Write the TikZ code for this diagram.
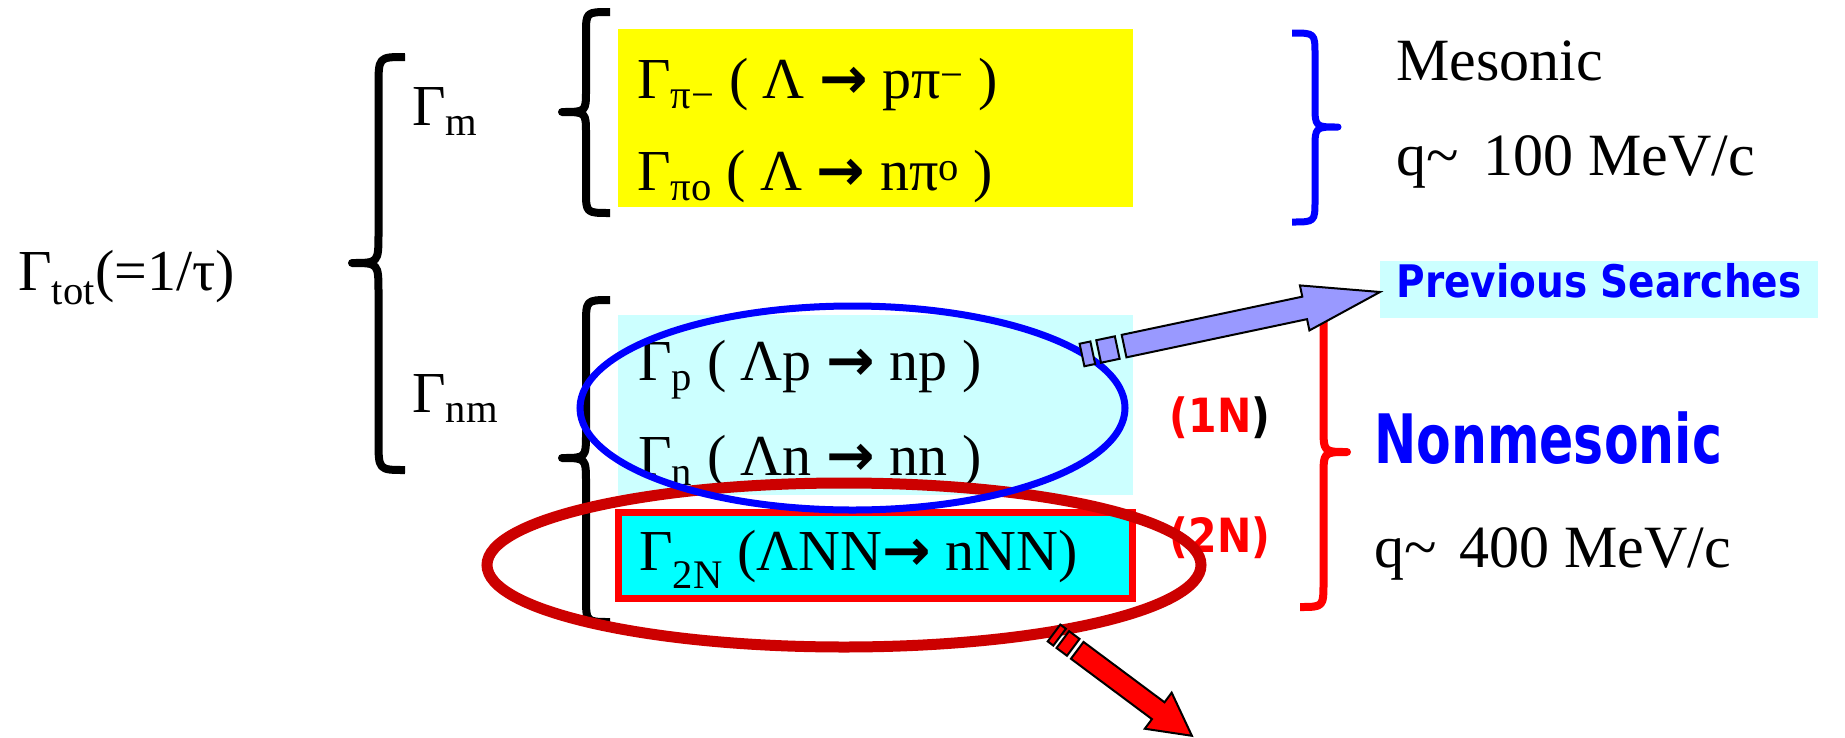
\documentclass[tikz,border=0pt]{standalone}
\usepackage{fontspec}
\usepackage{graphicx}
\setmainfont{Liberation Serif}
\newfontfamily\comicfont{DejaVu Sans}
\newfontfamily\arrowfont{DejaVu Sans}
\usetikzlibrary{shapes.geometric,positioning}

\definecolor{boxyellow}{HTML}{FFFF00}
\definecolor{palecyan}{HTML}{CCFFFF}
\definecolor{boxcyan}{HTML}{00FFFF}
\definecolor{darkred}{HTML}{CC0000}
\definecolor{boxblue}{HTML}{0000FF}
\definecolor{arrowpurple}{HTML}{9999FF}

\newcommand{\arr}{{\arrowfont\bfseries →}}
\newcommand{\vstretch}[2]{\scalebox{1}[#1]{#2}}
% curly brace: style, x of ends, x of tip, y top, y tip, y bottom, hook size
\newcommand{\curly}[7]{%
  \draw[#1] (#2,#4) .. controls ({(#2+#3)/2},#4) .. ({(#2+#3)/2},#4+#7)
    -- ({(#2+#3)/2},#5-#7) .. controls ({(#2+#3)/2},#5) .. (#3,#5)
    .. controls ({(#2+#3)/2},#5) .. ({(#2+#3)/2},#5+#7)
    -- ({(#2+#3)/2},#6-#7) .. controls ({(#2+#3)/2},#6) .. (#2,#6);}

\tikzset{
  rate/.style={anchor=base west, inner sep=0pt, font=\fontsize{58}{64}\selectfont},
  sidetext/.style={anchor=base west, inner sep=0pt, font=\fontsize{60}{66}\selectfont},
  panel/.style={anchor=north west, inner sep=0pt, minimum width=515pt},
  ovalring/.style={ellipse, inner sep=0pt},
  curlybrace/.style={line width=8pt, line join=round},
  blockarrow/.style={draw=black, line width=2pt, line join=miter},
  comic/.style={inner sep=0pt, font=\comicfont\bfseries}
}

\begin{document}
\begin{tikzpicture}[x=1pt,y=-1pt]
\useasboundingbox (0,0) rectangle (1845,737);

% boxes
\node[panel, fill=boxyellow, minimum height=178pt] (mesbox) at (618,29) {};
\node[panel, fill=palecyan, minimum height=180pt] (onebox) at (618,315) {};
\node[draw=red, line width=7pt, fill=boxcyan, inner sep=0pt, minimum width=514pt, minimum height=86pt] (twobox) at (875,555) {};

% widths
\node[rate] (gtot) at (18,290) {Γ\textsubscript{tot}(=1/τ)};
\node[rate] (gm) at (412,125) {Γ\textsubscript{m}};
\node[rate] (gnm) at (412,412) {Γ\textsubscript{nm}};
\node[rate] (gpim) at (637,98) {Γ\textsubscript{π−} ( Λ \arr{} pπ\textsuperscript{−} )};
\node[rate] (gpio) at (637,190) {Γ\textsubscript{πo} ( Λ \arr{} nπ\textsuperscript{o} )};
\node[rate] (gp) at (638,380) {Γ\textsubscript{p} ( Λp \arr{} np )};
\node[rate] (gn) at (638,475) {Γ\textsubscript{n} ( Λn \arr{} nn )};
\node[rate] (gtwo) at (639,570) {Γ\textsubscript{2N} (ΛNN\arr{} nNN)};

% right side
\node[sidetext] (mes) at (1396,80) {Mesonic};
\node[sidetext] (mesq) at (1396,175) {q\textasciitilde{}\hspace{10pt} 100 MeV/c};
\node[comic, anchor=base west, text=boxblue, font=\comicfont\bfseries\fontsize{50.5}{56}\selectfont] (nonmes) at (1374,463) {\vstretch{1.35}{Nonmesonic}};
\node[sidetext] (nonmesq) at (1374,567) {q\textasciitilde{}\hspace{8pt} 400 MeV/c};

% braces
\curly{curlybrace}{405}{352}{57}{263}{470}{30}
\curly{curlybrace}{610}{562}{12}{112}{213}{22}
\curly{curlybrace}{610}{562}{300}{458}{622}{25}
\curly{curlybrace, draw=boxblue, line width=7pt}{1292}{1338}{33}{127}{222}{22}
\curly{curlybrace, draw=red}{1300}{1347}{300}{452}{607}{25}

% 1N / 2N
\node[comic, text=red, font=\comicfont\bfseries\fontsize{41}{46}\selectfont] (onen) at (1220,418) {\vstretch{1.15}{(1N\textcolor{black}{)}}};
\node[comic, text=red, font=\comicfont\bfseries\fontsize{41}{46}\selectfont] (twon) at (1220,538) {\vstretch{1.15}{(2N)}};

% rings
\node[ovalring, draw=darkred, line width=11pt, minimum width=714pt, minimum height=164pt] (tworing) at (844,565) {};
\node[ovalring, draw=boxblue, line width=7pt, minimum width=545pt, minimum height=204pt] (onering) at (852.5,408) {};

% previous searches
\node[fill=palecyan, inner sep=0pt, minimum width=438pt, minimum height=57pt] (prevbox) at (1599,289.5) {};
\node[comic, anchor=base, text=boxblue, font=\comicfont\bfseries\fontsize{39}{44}\selectfont] (prev) at (1599,297) {\vstretch{1.15}{Previous Searches}};

% block arrows
\begin{scope}[shift={(1082,355)}, rotate=11.94]
  \draw[blockarrow, fill=arrowpurple] (0,-11.5) rectangle (11,11.5);
  \draw[blockarrow, fill=arrowpurple] (17,-11.5) rectangle (36,11.5);
  \draw[blockarrow, fill=arrowpurple] (43,-11.5) -- (227.6,-11.5) -- (227.6,-23) -- (304.6,0)
    -- (227.6,23) -- (227.6,11.5) -- (43,11.5) -- cycle;
\end{scope}
\begin{scope}[shift={(1054,633)}, rotate=-36.7]
  \draw[blockarrow, fill=red] (0,-10.5) rectangle (7,10.5);
  \draw[blockarrow, fill=red] (11,-10.5) rectangle (24,10.5);
  \draw[blockarrow, fill=red] (29,-10.5) -- (130,-10.5) -- (130,-22.5) -- (172,0)
    -- (130,22.5) -- (130,10.5) -- (29,10.5) -- cycle;
\end{scope}
\end{tikzpicture}
\end{document}
